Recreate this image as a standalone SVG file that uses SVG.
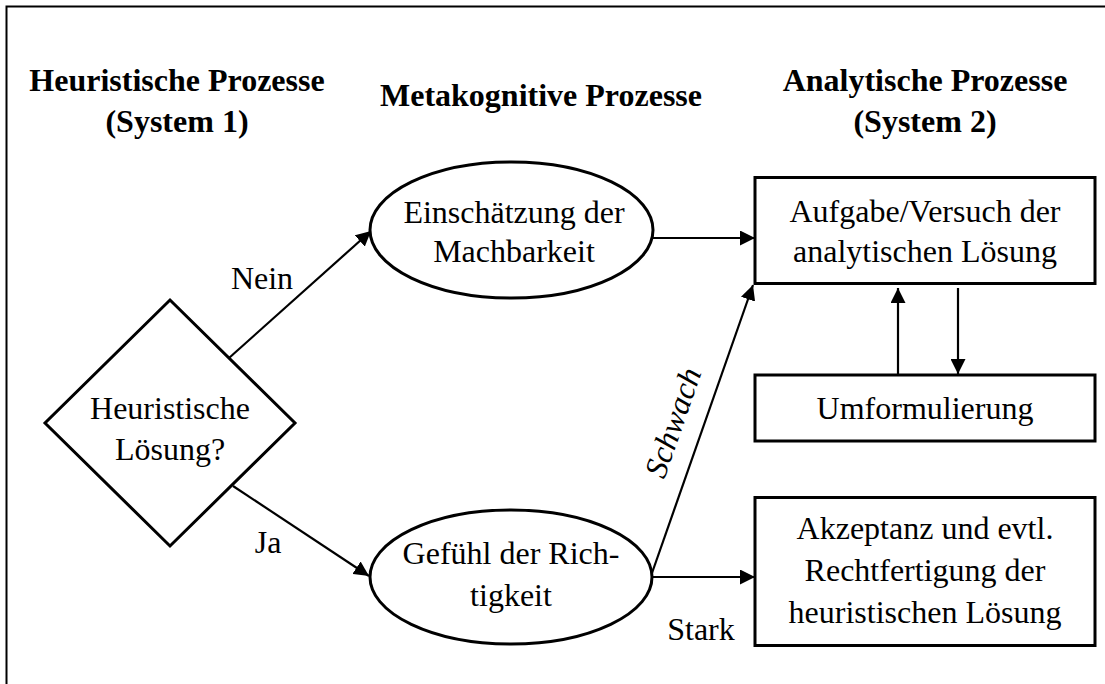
<svg xmlns="http://www.w3.org/2000/svg" width="1105" height="684" viewBox="0 0 1105 684">
<defs>
<style>
text{font-family:"Liberation Serif","Times New Roman",serif;font-size:32px;fill:#000;text-anchor:middle}
.t{font-weight:bold}
.shape{fill:#fff;stroke:#000;stroke-width:3}
.conn{fill:none;stroke:#000;stroke-width:2.2}
</style>
<marker id="ah" markerUnits="userSpaceOnUse" markerWidth="16" markerHeight="15" refX="15" refY="7.5" orient="auto">
<path d="M0,0 L15,7.5 L0,15 z" fill="#000"/>
</marker>
</defs>
<rect x="0" y="0" width="1105" height="684" fill="#fff"/>
<path d="M6.5,684 V6.5 H1105" fill="none" stroke="#000" stroke-width="2"/>
<g id="titles">
<text class="t" x="177" y="91">Heuristische Prozesse</text>
<text class="t" x="177" y="132">(System 1)</text>
<text class="t" x="541" y="106">Metakognitive Prozesse</text>
<text class="t" x="925" y="91">Analytische Prozesse</text>
<text class="t" x="925" y="132">(System 2)</text>
</g>
<g id="connectors">
<line class="conn" x1="229" y1="358" x2="371" y2="231" marker-end="url(#ah)"/>
<line class="conn" x1="233" y1="486" x2="369" y2="576" marker-end="url(#ah)"/>
<line class="conn" x1="653" y1="238" x2="755" y2="238" marker-end="url(#ah)"/>
<line class="conn" x1="652" y1="573" x2="753" y2="285" marker-end="url(#ah)"/>
<line class="conn" x1="652" y1="577" x2="755" y2="577" marker-end="url(#ah)"/>
<line class="conn" x1="898" y1="375" x2="898" y2="288" marker-end="url(#ah)"/>
<line class="conn" x1="958" y1="288" x2="958" y2="374" marker-end="url(#ah)"/>
<text x="262" y="289">Nein</text>
<text x="268" y="553">Ja</text>
<text x="701" y="640">Stark</text>
<text x="683" y="426" font-style="italic" transform="rotate(-70.7 683 426)">Schwach</text>
</g>
<g id="decision">
<polygon class="shape" stroke-width="2.5" points="170,300 295,423 170,546 45,423"/>
<text x="170" y="419">Heuristische</text>
<text x="170" y="460">Lösung?</text>
</g>
<g id="feasibility">
<ellipse class="shape" cx="511.5" cy="230" rx="141.5" ry="68"/>
<text x="514" y="223">Einschätzung der</text>
<text x="514" y="262">Machbarkeit</text>
</g>
<g id="rightness">
<ellipse class="shape" cx="511" cy="577" rx="141" ry="67"/>
<text x="511" y="564">Gefühl der Rich-</text>
<text x="511" y="606">tigkeit</text>
</g>
<g id="analytic">
<rect class="shape" x="755" y="177.5" width="340" height="106"/>
<text x="925" y="222">Aufgabe/Versuch der</text>
<text x="925" y="262">analytischen Lösung</text>
</g>
<g id="reformulation">
<rect class="shape" x="755" y="375" width="340" height="66"/>
<text x="925" y="419">Umformulierung</text>
</g>
<g id="acceptance">
<rect class="shape" x="755" y="497.5" width="340" height="148"/>
<text x="925" y="539">Akzeptanz und evtl.</text>
<text x="925" y="581">Rechtfertigung der</text>
<text x="925" y="623">heuristischen Lösung</text>
</g>
</svg>
